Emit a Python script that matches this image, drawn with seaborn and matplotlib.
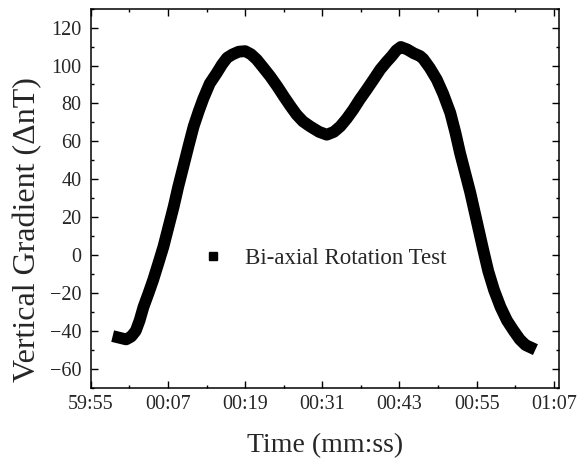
import matplotlib
matplotlib.use("Agg")
import matplotlib.pyplot as plt
from matplotlib.lines import Line2D
from matplotlib.ticker import FixedLocator, FixedFormatter
import seaborn as sns
import pandas as pd

# Data (time in seconds relative to 00:00, gradient in nT)
time_s = [-0.7, 0.5, 1.3, 2.0, 2.6, 3.2, 4.0, 4.7, 5.5, 6.3, 7.1, 7.9, 8.6,
          9.4, 10.2, 11.0, 11.8, 12.5, 13.5, 14.6, 15.4, 16.2, 17.0, 18.0,
          19.0, 19.9, 20.8, 21.8, 22.9, 24.0, 25.0, 26.0, 27.0, 28.0, 29.1,
          30.5, 31.7, 32.8, 33.8, 34.8, 35.8, 36.8, 37.9, 39.0, 40.0, 41.0,
          41.8, 42.5, 43.2, 44.2, 45.2, 46.2, 46.7, 47.7, 48.8, 49.8, 50.9,
          51.7, 52.4, 53.2, 54.0, 54.7, 55.3, 56.0, 56.8, 57.7, 58.7, 59.7,
          60.7, 61.7, 62.6, 63.3]
gradient = [-43.5, -44.5, -43.0, -40.0, -34.5, -27.4, -20.0, -13.2, -4.5,
            4.4, 15.0, 25.6, 36.0, 46.7, 57.5, 67.9, 76.0, 82.5, 90.5, 96.1,
            100.5, 104.1, 105.8, 107.3, 107.6, 106.0, 103.2, 99.0, 94.3, 89.0,
            83.8, 78.8, 74.1, 70.5, 67.9, 65.0, 63.5, 65.0, 67.9, 72.0, 76.7,
            82.0, 87.3, 92.8, 97.9, 102.0, 105.0, 108.0, 109.8, 108.5, 106.5,
            105.0, 103.5, 98.8, 92.6, 85.0, 75.0, 64.5, 54.0, 43.5, 33.0,
            22.5, 13.5, 3.0, -8.5, -18.5, -27.4, -34.5, -39.7, -44.5, -47.5,
            -48.6]

xtick_pos = [-5, 7, 19, 31, 43, 55, 67]
xtick_labels = ["59:55", "00:07", "00:19", "00:31", "00:43", "00:55", "01:07"]
xminor_pos = [1, 13, 25, 37, 49, 61]
ytick_pos = [-60, -40, -20, 0, 20, 40, 60, 80, 100, 120]
yminor_pos = [-70, -50, -30, -10, 10, 30, 50, 70, 90, 110, 130]

series_name = "Bi-axial Rotation Test"

df = pd.DataFrame({"t": time_s, "g": gradient})

sns.set_style("ticks")
plt.rcParams["font.family"] = ["Liberation Serif", "DejaVu Serif"]

fig = plt.figure(figsize=(5.79, 4.62), dpi=100)
ax = fig.add_axes([0.1567, 0.1608, 0.8088, 0.8204])

sns.lineplot(data=df, x="t", y="g", ax=ax, color="black", linewidth=8.5,
             legend=False, sort=False)
for ln in ax.get_lines():
    ln.set_solid_joinstyle("round")
    ln.set_solid_capstyle("projecting")

ax.set_xlim(-5, 67.8)
ax.set_ylim(-70, 130)

ax.xaxis.set_major_locator(FixedLocator(xtick_pos))
ax.xaxis.set_major_formatter(FixedFormatter(xtick_labels))
ax.xaxis.set_minor_locator(FixedLocator(xminor_pos))
ax.yaxis.set_major_locator(FixedLocator(ytick_pos))
ax.yaxis.set_minor_locator(FixedLocator(yminor_pos))

ax.tick_params(which="both", direction="in", top=True, right=True,
               color="black", width=1.0)
ax.tick_params(which="major", length=5)
ax.tick_params(which="minor", length=2.5)
ax.tick_params(axis="x", which="major", labelsize=14.5, pad=5)
ax.tick_params(axis="y", which="major", labelsize=14.5, pad=6.5)
for s in ax.spines.values():
    s.set_linewidth(1.1)
    s.set_color("black")

ax.set_xlabel("Time (mm:ss)", fontsize=20)
ax.set_ylabel("Vertical Gradient (ΔnT)", fontsize=23)
ax.xaxis.set_label_coords(0.5, -0.121)
ax.yaxis.set_label_coords(-0.104, 0.416)

handle = Line2D([], [], marker="s", linestyle="none", color="black",
                markersize=5.8)
ax.legend([handle], [series_name], loc="center left",
          bbox_to_anchor=(0.2366, 0.34), frameon=False, fontsize=16.5,
          handlelength=1.0, handletextpad=0.9, borderpad=0, borderaxespad=0)

fig.savefig("out.png", dpi=100)
